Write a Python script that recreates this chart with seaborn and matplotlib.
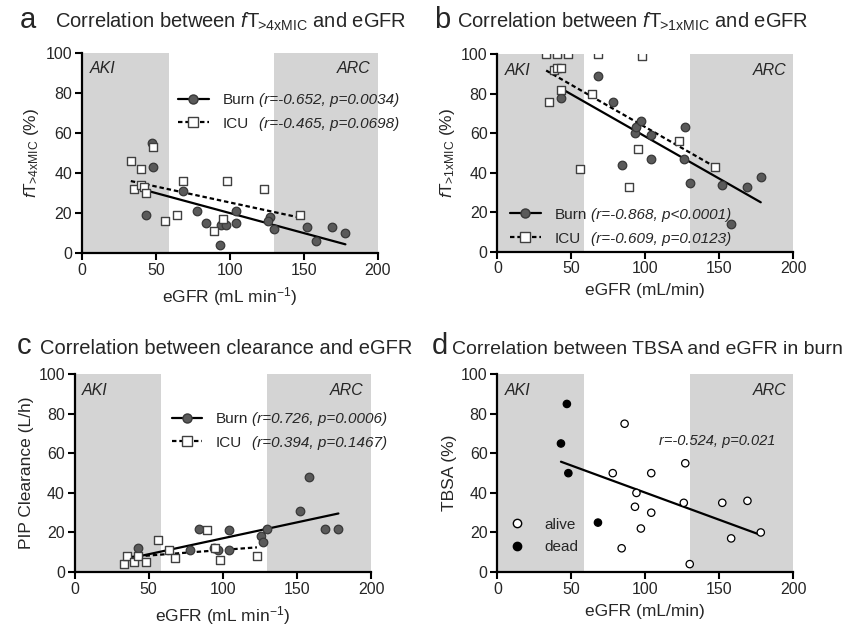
import numpy as np
import pandas as pd
import seaborn as sns
import matplotlib.pyplot as plt
from matplotlib.lines import Line2D

# Panel a: fT>4xMIC vs eGFR
a_burn_egfr = [47, 48, 43, 68, 78, 84, 93, 94, 97, 104, 104, 127, 126, 130, 152, 158, 169, 178]
a_burn_val = [55, 43, 19, 31, 21, 15, 4, 14, 14, 21, 15, 18, 16, 12, 13, 6, 13, 10]
a_icu_egfr = [33, 40, 48, 35, 40, 42, 43, 56, 64, 68, 89, 95, 98, 123, 147]
a_icu_val = [46, 42, 53, 32, 34, 33, 30, 16, 19, 36, 11, 17, 36, 32, 19]

# Panel b: fT>1xMIC vs eGFR
b_burn_egfr = [43, 68, 78, 84, 93, 94, 97, 104, 104, 126, 127, 130, 152, 158, 169, 178]
b_burn_val = [78, 89, 76, 44, 60, 63, 66, 59, 47, 47, 63, 35, 34, 14, 33, 38]
b_icu_egfr = [33, 40, 48, 68, 98, 38, 40, 43, 43, 35, 64, 56, 89, 95, 123, 147]
b_icu_val = [100, 100, 100, 100, 99, 92, 93, 93, 82, 76, 80, 42, 33, 52, 56, 43]

# Panel c: PIP clearance vs eGFR
c_burn_egfr = [43, 78, 84, 94, 97, 104, 104, 126, 127, 130, 152, 158, 169, 178]
c_burn_val = [12, 11, 22, 12, 11, 21, 11, 18, 15, 22, 31, 48, 22, 22]
c_icu_egfr = [33, 35, 40, 43, 48, 56, 64, 68, 89, 95, 98, 123]
c_icu_val = [4, 8, 5, 8, 5, 16, 11, 7, 21, 12, 6, 8]

# Panel d: TBSA vs eGFR in burn
d_egfr = [47, 43, 48, 68, 86, 78, 104, 127, 94, 93, 104, 97, 84, 126, 130, 152, 169, 158, 178]
d_tbsa = [85, 65, 50, 25, 75, 50, 50, 55, 40, 33, 30, 22, 12, 35, 4, 35, 36, 17, 20]
d_status = ["dead"] * 4 + ["alive"] * 15

titles = [r"Correlation between $\mathit{f}$T$_{\!\!>\!4\mathrm{xMIC}}$ and eGFR",
          r"Correlation between $\mathit{f}$T$_{\!\!>\!1\mathrm{xMIC}}$ and eGFR",
          "Correlation between clearance and eGFR",
          "Correlation between TBSA and eGFR in burn"]
letters = ["a", "b", "c", "d"]
ylabels = [r"$\mathit{f}$T$_{\!\!>\!4\mathrm{xMIC}}$ (%)", r"$\mathit{f}$T$_{\!\!>\!1\mathrm{xMIC}}$ (%)",
           "PIP Clearance (L/h)", "TBSA (%)"]
xlabels = [r"eGFR (mL min$^{-1}$)", "eGFR (mL/min)", r"eGFR (mL min$^{-1}$)", "eGFR (mL/min)"]
group_names = ["Burn", "ICU"]
stats_text = [["(r=-0.652, p=0.0034)", "(r=-0.465, p=0.0698)"],
              ["(r=-0.868, p<0.0001)", "(r=-0.609, p=0.0123)"],
              ["(r=0.726, p=0.0006)", "(r=0.394, p=0.1467)"]]
d_stats = "r=-0.524, p=0.021"

sns.set_style("ticks")
plt.rcParams["font.family"] = ["Liberation Sans", "DejaVu Sans"]
plt.rcParams["mathtext.fontset"] = "custom"
plt.rcParams["mathtext.rm"] = "Liberation Sans"
plt.rcParams["mathtext.it"] = "Liberation Sans:italic"
plt.rcParams["mathtext.bf"] = "Liberation Sans:bold"

BURN_FC = "#5a5a5a"
BURN_EC = "#383838"
ICU_EC = "#404040"
SHADE = "#d4d4d4"
DASH = (0, (2, 1.3))

fig = plt.figure(figsize=(8.61, 6.36), dpi=100)
positions = [[0.0952, 0.602, 0.3438, 0.3147],
             [0.5776, 0.6043, 0.3438, 0.3103],
             [0.0867, 0.1006, 0.3442, 0.3109],
             [0.5776, 0.1006, 0.3438, 0.3109]]
axes = [fig.add_axes(p) for p in positions]


def style_axis(ax, i):
    ax.axvspan(0, 58.5, color=SHADE, zorder=0, lw=0)
    ax.axvspan(130, 200, color=SHADE, zorder=0, lw=0)
    ax.text(5, 92, "AKI", style="italic", fontsize=11.5, va="center", ha="left")
    ax.text(195, 92, "ARC", style="italic", fontsize=11.5, va="center", ha="right")
    ax.set_xlim(0, 200)
    ax.set_ylim(0, 100)
    ax.set_xticks([0, 50, 100, 150, 200])
    ax.set_yticks([0, 20, 40, 60, 80, 100])
    ax.tick_params(labelsize=11.5, width=1.5, length=5, direction="out", color="black", pad=2)
    for s in ["left", "bottom"]:
        ax.spines[s].set_linewidth(1.6)
        ax.spines[s].set_color("black")
    sns.despine(ax=ax)
    ax.set_xlabel(xlabels[i], fontsize=12.5, labelpad=5)
    ax.set_ylabel(ylabels[i], fontsize=12.5, labelpad=3)


def draw_groups(ax, burn_x, burn_y, icu_x, icu_y):
    sns.regplot(x=icu_x, y=icu_y, ax=ax, scatter=False, ci=None, color="black",
                line_kws=dict(lw=1.6, ls=DASH, zorder=3))
    sns.regplot(x=burn_x, y=burn_y, ax=ax, scatter=False, ci=None, color="black",
                line_kws=dict(lw=1.6, ls="-", zorder=3))
    sns.scatterplot(x=burn_x, y=burn_y, ax=ax, marker="o", s=38, color=BURN_FC,
                    edgecolor=BURN_EC, linewidth=0.9, zorder=4)
    sns.scatterplot(x=icu_x, y=icu_y, ax=ax, marker="s", s=38, color="white",
                    edgecolor=ICU_EC, linewidth=1.0, zorder=5)


data_sets = [(a_burn_egfr, a_burn_val, a_icu_egfr, a_icu_val),
             (b_burn_egfr, b_burn_val, b_icu_egfr, b_icu_val),
             (c_burn_egfr, c_burn_val, c_icu_egfr, c_icu_val)]
legend_anchor = [(65, 70.6), (8.6, 12.7), (65.5, 71.4)]

legends = []
for i, ax in enumerate(axes[:3]):
    draw_groups(ax, *data_sets[i])
    style_axis(ax, i)
    handles = [Line2D([0], [0], color="black", lw=1.6, marker="o", ms=6.5, mfc=BURN_FC, mec=BURN_EC),
               Line2D([0], [0], color="black", lw=1.6, ls=DASH, marker="s", ms=6.5,
                      mfc="white", mec=ICU_EC)]
    leg = ax.legend(handles, group_names, loc="center left", bbox_to_anchor=legend_anchor[i],
                    bbox_transform=ax.transData, frameon=False, fontsize=11, handlelength=2.0,
                    handletextpad=0.9, labelspacing=0.65, borderpad=0, borderaxespad=0)
    legends.append(leg)

# panel d
ax = axes[3]
df_d = pd.DataFrame({"egfr": d_egfr, "tbsa": d_tbsa, "status": d_status})
sns.regplot(data=df_d, x="egfr", y="tbsa", ax=ax, scatter=False, ci=None, color="black",
            line_kws=dict(lw=1.6, zorder=3))
sns.scatterplot(data=df_d, x="egfr", y="tbsa", hue="status", hue_order=["alive", "dead"],
                palette={"alive": "white", "dead": "black"}, edgecolor="black", linewidth=0.9,
                s=28, ax=ax, zorder=4, legend=False)
style_axis(ax, 3)
ax.text(109, 66.5, d_stats, style="italic", fontsize=10.5, va="center", ha="left")
handles = [Line2D([0], [0], ls="none", marker="o", ms=6, mfc="white", mec="black"),
           Line2D([0], [0], ls="none", marker="o", ms=6, mfc="black", mec="black")]
ax.legend(handles, ["alive", "dead"], loc="center left", bbox_to_anchor=(8, 18.3),
          bbox_transform=ax.transData, frameon=False, fontsize=11, handlelength=1.0,
          handletextpad=1.3, labelspacing=0.55, borderpad=0, borderaxespad=0)

# italic statistics next to the legend entries, aligned on the legend rows
fig.canvas.draw()
renderer = fig.canvas.get_renderer()
for i, leg in enumerate(legends):
    ax = axes[i]
    texts = leg.get_texts()
    x_pix = max(t.get_window_extent(renderer).x1 for t in texts) + 4
    for k, t in enumerate(texts):
        bb = t.get_window_extent(renderer)
        xd, yd = ax.transData.inverted().transform((x_pix, (bb.y0 + bb.y1) / 2))
        ax.text(xd, yd, stats_text[i][k], style="italic", fontsize=11,
                va="center", ha="left")

# panel letters and titles
letter_pos = [(20, 28), (434, 28), (17, 354), (432, 354)]
title_pos = [(55, 28), (457, 28), (40, 354), (452, 354)]
for i in range(4):
    lx, ly = letter_pos[i]
    tx, ty = title_pos[i]
    fig.text(lx / 861, 1 - ly / 636, letters[i], fontsize=21, ha="left", va="baseline")
    fig.text(tx / 861, 1 - ty / 636, titles[i], fontsize=14.5 if i < 3 else 14, ha="left",
             va="baseline")

fig.savefig("out.png", dpi=100)
